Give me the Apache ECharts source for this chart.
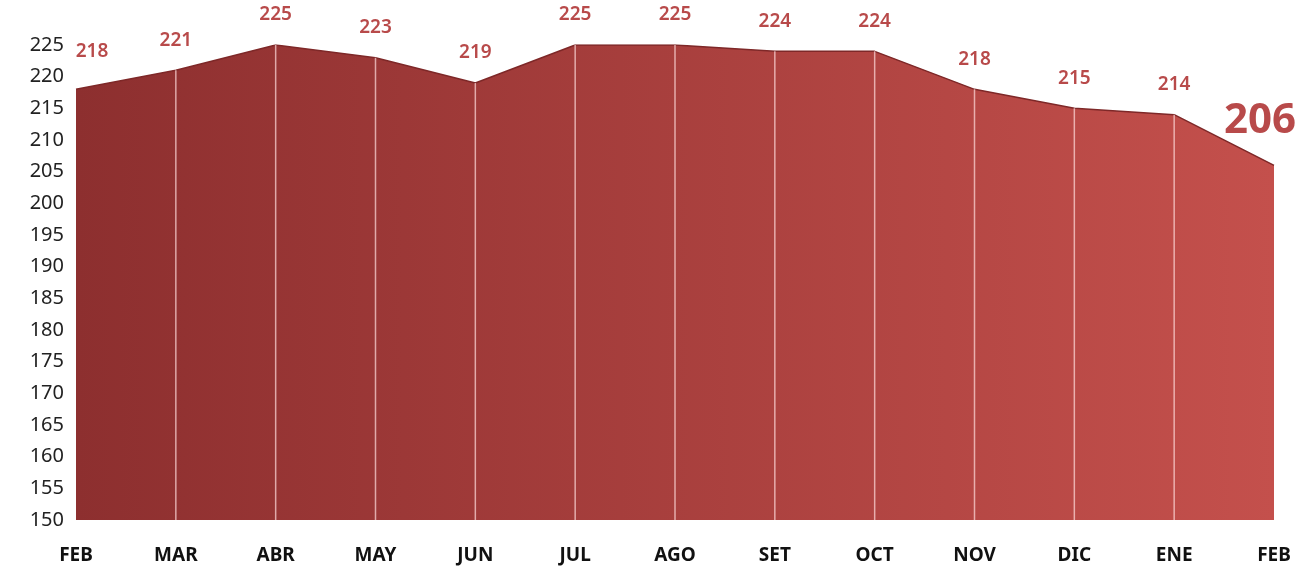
<!DOCTYPE html>
<html>
<head>
<meta charset="utf-8">
<title>chart</title>
<script src="https://cdn.jsdelivr.net/npm/echarts@6/dist/echarts.min.js"></script>
<style>
  html, body { margin: 0; padding: 0; background: #fff; }
  #chart { width: 1312px; height: 569px; }
</style>
</head>
<body>
<div id="chart"></div>
<script>
  var months = ['FEB', 'MAR', 'ABR', 'MAY', 'JUN', 'JUL', 'AGO', 'SET', 'OCT', 'NOV', 'DIC', 'ENE', 'FEB'];
  var values = [218, 221, 225, 223, 219, 225, 225, 224, 224, 218, 215, 214, 206];
  var yMin = 150, yMax = 225, yStep = 5;

  var chart = echarts.init(document.getElementById('chart'));

  var seriesData = values.map(function (v, i) {
    var item = { value: v };
    if (i === 0) {
      item.label = { offset: [16, -8] };
    }
    if (i === values.length - 1) {
      // ultimo valor destacado
      item.label = { fontSize: 42, fontWeight: 'bold', offset: [-14, -3] };
    }
    return item;
  });

  // lineas verticales blancas en cada mes (sin la primera ni la ultima)
  var dividers = values.map(function (v, i) {
    return (i === 0 || i === values.length - 1) ? '-' : v;
  });

  var fill = new echarts.graphic.LinearGradient(0, 0, 1, 0, [
    { offset: 0, color: '#8d2f2f' },
    { offset: 1, color: '#c4504c' }
  ]);

  chart.setOption({
    animation: false,
    textStyle: { fontFamily: 'Noto Sans' },
    grid: { left: 76, right: 38, top: 45, bottom: 49 },
    xAxis: {
      type: 'category',
      data: months,
      boundaryGap: false,
      axisLine: { show: false },
      axisTick: { show: false },
      axisLabel: { color: '#111', fontSize: 19, fontWeight: 'bold', margin: 26 },
      splitLine: { show: false }
    },
    yAxis: {
      type: 'value',
      min: yMin,
      max: yMax,
      interval: yStep,
      axisLine: { show: false },
      axisTick: { show: false },
      splitLine: { show: false },
      axisLabel: { color: '#222', fontSize: 20, margin: 12 }
    },
    series: [{
      type: 'line',
      data: seriesData,
      symbol: 'circle',
      symbolSize: 1,
      showSymbol: true,
      itemStyle: { color: 'rgba(0,0,0,0)' },
      lineStyle: { color: '#7e2828', width: 1.5 },
      areaStyle: { color: fill, opacity: 1 },
      z: 2,
      label: {
        show: true,
        position: 'top',
        distance: 20,
        color: '#b84a4a',
        fontSize: 19,
        fontWeight: 600
      }
    }, {
      type: 'bar',
      data: dividers,
      barWidth: 1.5,
      itemStyle: { color: 'rgba(255,220,220,0.7)' },
      silent: true,
      z: 3
    }]
  });
</script>
</body>
</html>
